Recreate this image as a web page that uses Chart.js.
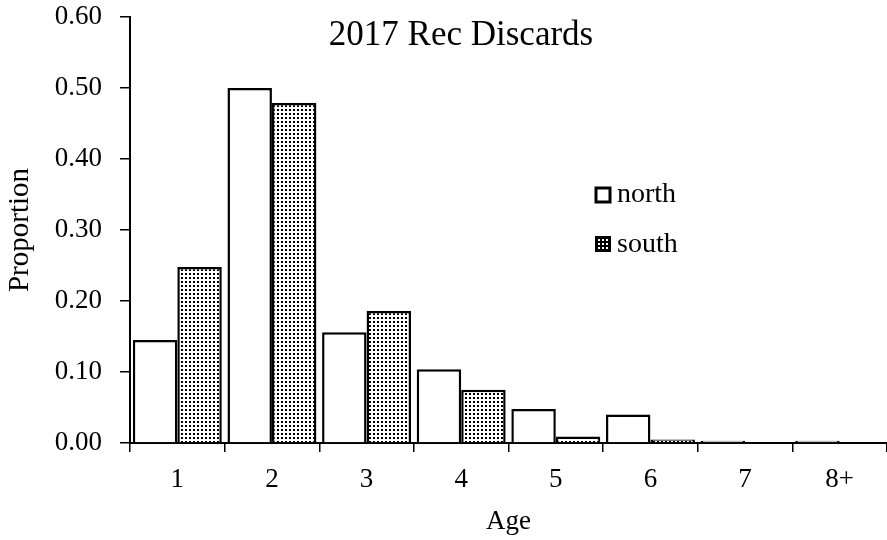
<!DOCTYPE html>
<html>
<head>
<meta charset="utf-8">
<script src="https://cdn.jsdelivr.net/npm/chart.js@4/dist/chart.umd.min.js"></script>
<style>
  html, body { margin: 0; padding: 0; background: #fff; }
  #wrap { width: 887px; height: 540px; position: relative; }
</style>
</head>
<body>
<div id="wrap"><canvas id="chart"></canvas></div>
<script>
'use strict';

// ── data ──
const ages = ['1', '2', '3', '4', '5', '6', '7', '8+'];
const north = [0.145, 0.500, 0.156, 0.104, 0.048, 0.040, 0.003, 0.003];
const south = [0.248, 0.479, 0.186, 0.075, 0.009, 0.005, 0.001, 0.001];
const yTicks = [0, 0.1, 0.2, 0.3, 0.4, 0.5, 0.6];

const FONT = 'Liberation Serif, Times New Roman, serif';

// dotted fill for the south series
function dotPattern() {
  const c = document.createElement('canvas');
  c.width = 4; c.height = 4;
  const g = c.getContext('2d');
  g.fillStyle = '#fff'; g.fillRect(0, 0, 4, 4);
  g.fillStyle = '#000'; g.fillRect(1, 1, 2, 2);
  return g.createPattern(c, 'repeat');
}
const dots = dotPattern();

// title + legend drawn inside the plot, like the original
const overlay = {
  id: 'overlay',
  afterDraw(chart) {
    const ctx = chart.ctx;
    ctx.save();
    ctx.fillStyle = '#000';
    ctx.font = '35px ' + FONT;
    ctx.textAlign = 'center';
    ctx.textBaseline = 'middle';
    ctx.fillText('2017 Rec Discards', 461, 36);

    ctx.font = '28px ' + FONT;
    ctx.textAlign = 'left';
    ctx.lineWidth = 3;
    ctx.strokeStyle = '#000';

    // north: open box
    ctx.fillStyle = '#fff';
    ctx.fillRect(596, 188, 14, 14);
    ctx.strokeRect(596, 188, 14, 14);
    // south: dark box with white dots
    ctx.fillStyle = '#000';
    ctx.fillRect(595, 236, 16, 16);
    ctx.fillStyle = '#fff';
    for (let i = 0; i < 3; i++) for (let j = 0; j < 3; j++) ctx.fillRect(598 + i * 4, 239 + j * 4, 2, 2);

    ctx.fillStyle = '#000';
    ctx.fillText('north', 617, 195);
    ctx.fillText('south', 617, 245);
    ctx.restore();
  },
};

new Chart(document.getElementById('chart'), {
  type: 'bar',
  data: {
    labels: ages,
    datasets: [
      { label: 'north', data: north, backgroundColor: '#fff', borderColor: '#000', borderWidth: 2.5, borderSkipped: 'bottom' },
      { label: 'south', data: south, backgroundColor: dots, borderColor: '#000', borderWidth: 2.5, borderSkipped: 'bottom' },
    ],
  },
  options: {
    responsive: true,
    maintainAspectRatio: false,
    animation: false,
    devicePixelRatio: 1,
    layout: { padding: { top: 17, right: 0, left: 0, bottom: 0 } },
    datasets: { bar: { categoryPercentage: 0.94, barPercentage: 1 } },
    plugins: { legend: { display: false }, tooltip: { enabled: false } },
    scales: {
      x: {
        afterFit: ax => { ax.height = 97; ax.paddingLeft = 0; ax.paddingRight = 0; },
        grid: { display: true, drawOnChartArea: false, offset: true, tickLength: 9, color: '#000', lineWidth: 1.5 },
        border: { display: true, color: '#000', width: 2 },
        ticks: { color: '#000', font: { family: FONT, size: 27 }, padding: 12 },
        title: { display: true, text: 'Age', color: '#000', font: { family: FONT, size: 27 }, padding: { top: 0, bottom: 2 } },
      },
      y: {
        min: 0, max: 0.6,
        afterFit: ax => { ax.width = 130; ax.paddingTop = 0; ax.paddingBottom = 0; },
        afterBuildTicks: ax => { ax.ticks = yTicks.map(v => ({ value: v })); },
        grid: { display: true, drawOnChartArea: false, tickLength: 10, color: '#000', lineWidth: 1.5 },
        border: { display: true, color: '#000', width: 2 },
        ticks: { color: '#000', font: { family: FONT, size: 27 }, padding: 18, callback: v => v.toFixed(2) },
        title: { display: true, text: 'Proportion', color: '#000', font: { family: FONT, size: 29 }, padding: { top: 3, bottom: 0 } },
      },
    },
  },
  plugins: [overlay],
});
</script>
</body>
</html>
